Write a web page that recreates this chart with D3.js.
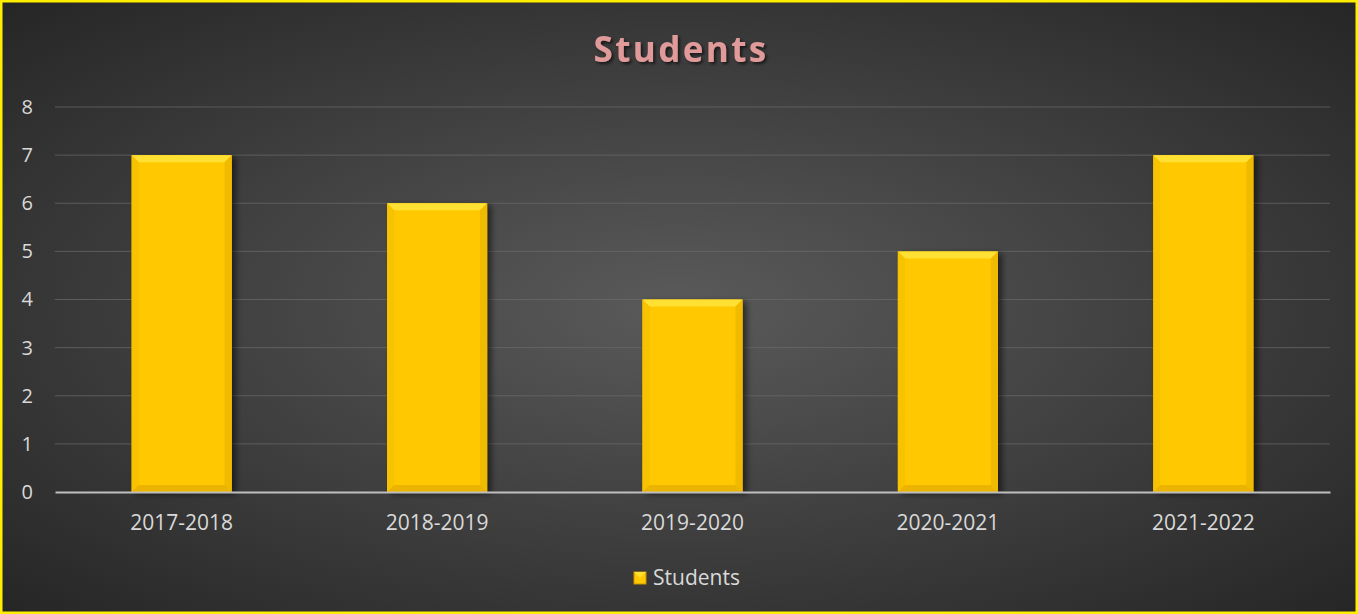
<!DOCTYPE html>
<html>
<head>
<meta charset="utf-8">
<script src="https://cdn.jsdelivr.net/npm/d3@7"></script>
<style>
  html, body { margin: 0; padding: 0; background: #2b2b2b; }
  svg { display: block; }
</style>
</head>
<body>
<div id="chart"></div>
<script>
// ===== DATA =====
const years = ["2017-2018", "2018-2019", "2019-2020", "2020-2021", "2021-2022"];
const students = [7, 6, 4, 5, 7];
const yTicks = [0, 1, 2, 3, 4, 5, 6, 7, 8];

const width = 1358, height = 614;
const margin = { top: 107, right: 28, bottom: 122, left: 55 };
const font = "'Open Sans', 'Noto Sans', sans-serif";

const svg = d3.select("#chart").append("svg")
  .attr("width", width)
  .attr("height", height);

const defs = svg.append("defs");

// background radial gradient
const bg = defs.append("radialGradient").attr("id", "bg")
  .attr("cx", "50%").attr("cy", "50%").attr("r", "70%");
bg.append("stop").attr("offset", "0%").attr("stop-color", "#5a5a5a");
bg.append("stop").attr("offset", "100%").attr("stop-color", "#262626");

// bar face gradient
const barGrad = defs.append("linearGradient").attr("id", "barFace")
  .attr("x1", "0").attr("x2", "1").attr("y1", "0").attr("y2", "0");
barGrad.append("stop").attr("offset", "0%").attr("stop-color", "#f2b800");
barGrad.append("stop").attr("offset", "8%").attr("stop-color", "#ffc800");
barGrad.append("stop").attr("offset", "92%").attr("stop-color", "#ffc800");
barGrad.append("stop").attr("offset", "100%").attr("stop-color", "#eab000");

const shadow = defs.append("filter").attr("id", "barShadow")
  .attr("x", "-20%").attr("y", "-10%").attr("width", "150%").attr("height", "130%");
shadow.append("feDropShadow").attr("dx", 4).attr("dy", 2).attr("stdDeviation", 3)
  .attr("flood-color", "#000").attr("flood-opacity", 0.55);

const titleShadow = defs.append("filter").attr("id", "titleShadow");
titleShadow.append("feDropShadow").attr("dx", 2).attr("dy", 2).attr("stdDeviation", 1.5)
  .attr("flood-color", "#000").attr("flood-opacity", 0.6);

// Background and yellow border
svg.append("rect").attr("width", width).attr("height", height).attr("fill", "url(#bg)");
svg.append("rect").attr("x", 1).attr("y", 1).attr("width", width - 2).attr("height", height - 2)
  .attr("fill", "none").attr("stroke", "#ffee00").attr("stroke-width", 3);

// Title
svg.append("text")
  .attr("x", 681).attr("y", 62)
  .attr("text-anchor", "middle")
  .attr("font-family", font)
  .attr("font-weight", 700)
  .attr("font-size", 35)
  .attr("letter-spacing", 2.4)
  .attr("fill", "#e09a9a")
  .attr("filter", "url(#titleShadow)")
  .text("Students");

// Scales
const x = d3.scaleBand()
  .domain(years)
  .range([margin.left, width - margin.right])
  .paddingInner(0.608)
  .paddingOuter(0.3);

const y = d3.scaleLinear()
  .domain([0, 8])
  .range([height - margin.bottom, margin.top]);

// Gridlines
svg.append("g")
  .selectAll("line")
  .data(yTicks.filter(d => d > 0))
  .enter().append("line")
  .attr("x1", margin.left).attr("x2", width - margin.right)
  .attr("y1", d => y(d)).attr("y2", d => y(d))
  .attr("stroke", "#6b6b6b").attr("stroke-width", 1).attr("opacity", 0.7);

// Y axis
const yAxis = svg.append("g")
  .attr("transform", `translate(${margin.left},0)`)
  .call(d3.axisLeft(y).tickValues(yTicks).tickSize(0).tickPadding(22));
yAxis.select(".domain").remove();
yAxis.selectAll("text")
  .attr("fill", "#d9d9d9")
  .attr("font-family", font)
  .attr("font-size", 20);

// Bars
const bars = svg.append("g").selectAll("g")
  .data(years.map((d, i) => ({ year: d, value: students[i] })))
  .enter().append("g");

bars.append("rect")
  .attr("x", d => x(d.year))
  .attr("y", d => y(d.value))
  .attr("width", x.bandwidth())
  .attr("height", d => y(0) - y(d.value))
  .attr("fill", "url(#barFace)")
  .attr("filter", "url(#barShadow)");

// bevel on top
const bev = 7;
bars.append("path")
  .attr("d", d => {
    const x0 = x(d.year), x1 = x0 + x.bandwidth(), y0 = y(d.value);
    return `M${x0},${y0}L${x1},${y0}L${x1 - bev},${y0 + bev}L${x0 + bev},${y0 + bev}Z`;
  })
  .attr("fill", "#ffe033");
// bevel on bottom
bars.append("path")
  .attr("d", d => {
    const x0 = x(d.year), x1 = x0 + x.bandwidth(), y1 = y(0);
    return `M${x0},${y1}L${x1},${y1}L${x1 - bev},${y1 - bev}L${x0 + bev},${y1 - bev}Z`;
  })
  .attr("fill", "#ebb400");
// bevel sides
bars.append("path")
  .attr("d", d => {
    const x0 = x(d.year), y0 = y(d.value), y1 = y(0);
    return `M${x0},${y0}L${x0 + bev},${y0 + bev}L${x0 + bev},${y1 - bev}L${x0},${y1}Z`;
  })
  .attr("fill", "#f7c200");
bars.append("path")
  .attr("d", d => {
    const x1 = x(d.year) + x.bandwidth(), y0 = y(d.value), y1 = y(0);
    return `M${x1},${y0}L${x1 - bev},${y0 + bev}L${x1 - bev},${y1 - bev}L${x1},${y1}Z`;
  })
  .attr("fill", "#f0ba00");

// X axis
const xAxis = svg.append("g")
  .attr("transform", `translate(0,${y(0)})`)
  .call(d3.axisBottom(x).tickSize(0).tickPadding(23));
xAxis.select(".domain").attr("stroke", "#bfbfbf").attr("stroke-width", 2);
xAxis.selectAll("text")
  .attr("fill", "#d9d9d9")
  .attr("font-family", font)
  .attr("font-size", 21);

// Legend
const legend = svg.append("g").attr("transform", "translate(634,572)");
legend.append("rect").attr("width", 12).attr("height", 12).attr("fill", "#ffc800")
  .attr("stroke", "#c89400").attr("stroke-width", 1);
legend.append("path").attr("d", "M0,0L12,0L6,6Z").attr("fill", "#ffe033");
legend.append("text")
  .attr("x", 19).attr("y", 13)
  .attr("fill", "#d9d9d9")
  .attr("font-family", font)
  .attr("font-size", 21)
  .text("Students");
</script>
</body>
</html>
